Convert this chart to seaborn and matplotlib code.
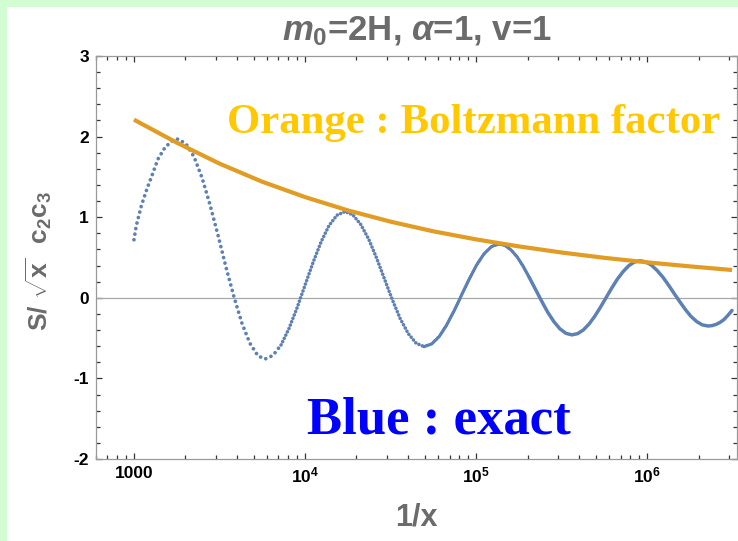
import numpy as np
import pandas as pd
import matplotlib
matplotlib.use("Agg")
import matplotlib.pyplot as plt
from matplotlib.patches import Rectangle
from matplotlib.ticker import (FixedLocator, FixedFormatter, LogLocator,
                               MultipleLocator, NullFormatter)
import seaborn as sns

# exact result: log10(1/x) and S/(sqrt(x) c2 c3)
log_inv_x_exact = [3.000, 3.013, 3.043, 3.074, 3.104, 3.140, 3.180, 3.218, 3.257,
                   3.304, 3.351, 3.398, 3.444, 3.491, 3.538, 3.585, 3.632, 3.678, 3.725,
                   3.766, 3.813, 3.860, 3.906, 3.953, 4.000, 4.047, 4.094, 4.140, 4.187,
                   4.234, 4.280, 4.326, 4.373, 4.419, 4.465, 4.511, 4.557, 4.604, 4.650,
                   4.696, 4.740, 4.784, 4.827, 4.871, 4.915, 4.959, 5.003, 5.047, 5.091,
                   5.135, 5.170, 5.206, 5.242, 5.277, 5.312, 5.348, 5.384, 5.419, 5.455,
                   5.490, 5.526,
                   5.561, 5.595, 5.628, 5.661, 5.694, 5.727, 5.760, 5.793, 5.826, 5.860,
                   5.893, 5.926,
                   5.959, 5.992, 6.025, 6.058, 6.092, 6.125, 6.158, 6.192, 6.225, 6.257,
                   6.291, 6.323,
                   6.357, 6.380, 6.404, 6.427, 6.450, 6.474, 6.497]
s_exact = [0.72, 0.89, 1.14, 1.34, 1.51, 1.72, 1.86, 1.94, 1.97,
           1.91, 1.75, 1.49, 1.16, 0.78, 0.38, 0.01, -0.32, -0.565, -0.72,
           -0.76, -0.715, -0.585, -0.383, -0.128, 0.155, 0.438, 0.693, 0.895, 1.025,
           1.07, 1.029, 0.910, 0.725, 0.491, 0.232, -0.026, -0.260, -0.445, -0.564,
           -0.605, -0.574, -0.483, -0.343, -0.165, 0.032, 0.228, 0.406, 0.546, 0.637,
           0.668, 0.649, 0.592, 0.503, 0.386, 0.250, 0.104, -0.042, -0.178, -0.295,
           -0.384, -0.441,
           -0.46, -0.444, -0.398, -0.325, -0.230, -0.119, 0.0, 0.119, 0.230, 0.325,
           0.398, 0.444,
           0.46, 0.446, 0.406, 0.341, 0.258, 0.160, 0.055, -0.050, -0.148, -0.231,
           -0.296, -0.336,
           -0.35, -0.345, -0.33, -0.305, -0.27, -0.215, -0.157]

# Boltzmann factor envelope
log_inv_x_boltz = [3.00, 3.25, 3.50, 3.75, 4.00, 4.25, 4.50, 4.75,
                   5.00, 5.25, 5.50, 5.75, 6.00, 6.25, 6.497]
s_boltz = [2.21, 1.925, 1.665, 1.44, 1.25, 1.085, 0.945, 0.825,
           0.725, 0.638, 0.562, 0.496, 0.440, 0.39, 0.345]

x_ticks = [1e3, 1e4, 1e5, 1e6]
x_tick_labels = ["1000", r"$\mathbf{10^{4}}$", r"$\mathbf{10^{5}}$", r"$\mathbf{10^{6}}$"]
y_ticks = [-2, -1, 0, 1, 2, 3]

BLUE = "#5e81b5"
ORANGE = "#e19c24"
GRAY = "#6b6b6b"

sns.set_theme(style="ticks")
plt.rcParams["font.family"] = ["Liberation Sans", "DejaVu Sans"]
plt.rcParams["font.weight"] = "bold"
plt.rcParams["mathtext.fontset"] = "custom"
plt.rcParams["mathtext.rm"] = "Liberation Sans:bold"
plt.rcParams["mathtext.it"] = "Liberation Sans:italic:bold"
plt.rcParams["mathtext.bf"] = "Liberation Sans:bold"
plt.rcParams["axes.unicode_minus"] = False

exact = pd.DataFrame({"lg": log_inv_x_exact, "s": s_exact})
exact["inv_x"] = 10 ** exact["lg"]
boltz = pd.DataFrame({"lg": log_inv_x_boltz, "s": s_boltz})
boltz["inv_x"] = 10 ** boltz["lg"]

fig = plt.figure(figsize=(7.38, 5.41), dpi=100, facecolor="#d2fdd2")
fig.add_artist(Rectangle((7 / 738, 0), 1, 1 - 7 / 541, transform=fig.transFigure,
                         facecolor="white", edgecolor="none", zorder=-1))
ax = fig.add_axes([96 / 738, 1 - 459 / 541, 641 / 738, 403 / 541])
ax.set_facecolor("none")
ax.set_xscale("log")

# dots get denser towards large 1/x, like the sampled points of the original
segments = [(3.0, 3.860, 1.5, 2.7), (3.860, 4.696, 1.0, 2.6),
            (4.696, 5.312, 0.6, 2.5), (5.312, 7.0, None, 2.5)]
for lo, hi, gap, lw in segments:
    part = exact[(exact["lg"] >= lo) & (exact["lg"] <= hi)]
    ls = "-" if gap is None else (0, (0.01, gap))
    sns.lineplot(data=part, x="inv_x", y="s", ax=ax, color=BLUE, linewidth=lw,
                 linestyle=ls, dash_capstyle="round", solid_capstyle="round", zorder=3)

sns.lineplot(data=boltz, x="inv_x", y="s", ax=ax, color=ORANGE, linewidth=3.0,
             solid_capstyle="butt", zorder=4)

ax.axhline(0, color="#a8a8a8", lw=0.9, zorder=1)

ax.set_xlim(10 ** 2.778, 10 ** 6.526)
ax.set_ylim(-2, 3)

ax.xaxis.set_major_locator(FixedLocator(x_ticks))
ax.xaxis.set_major_formatter(FixedFormatter(x_tick_labels))
ax.xaxis.set_minor_locator(LogLocator(base=10, subs=np.arange(2, 10), numticks=50))
ax.xaxis.set_minor_formatter(NullFormatter())
ax.yaxis.set_major_locator(FixedLocator(y_ticks))
ax.yaxis.set_minor_locator(MultipleLocator(0.2))
ax.tick_params(which="both", direction="in", top=True, right=True,
               color="#333333", width=0.9)
ax.tick_params(which="major", length=4.5, labelsize=12.5, pad=5, labelcolor="black")
ax.tick_params(which="minor", length=2.6)
for sp in ax.spines.values():
    sp.set_color("#9a9a9a")
    sp.set_linewidth(0.9)

ax.text(0.5, 1.040, r"$m_0$=2H, $\alpha$=1, v=1", transform=ax.transAxes,
        fontsize=25, color=GRAY, fontweight="bold", ha="center", va="baseline")
ax.set_xlabel("1/x", fontsize=22, color=GRAY, fontweight="bold", va="center")
ax.xaxis.set_label_coords(0.5, -0.145)
ax.set_ylabel(r"S/$\ \sqrt{\mathrm{x}}\ \ \mathrm{c}_2\mathrm{c}_3$", fontsize=19,
              color=GRAY, fontweight="bold", va="center")
ax.yaxis.set_label_coords(-0.09, 0.49)

ax.text(0.204, 0.808, "Orange : Boltzmann factor", transform=ax.transAxes,
        family="Liberation Serif", fontweight="bold", fontsize=30.8,
        color="#ffc800", va="baseline", ha="left")
ax.text(0.3287, 0.0638, "Blue : exact", transform=ax.transAxes,
        family="Liberation Serif", fontweight="bold", fontsize=38,
        color="#0000ff", va="baseline", ha="left")

fig.savefig("out.png", dpi=100, facecolor=fig.get_facecolor())
